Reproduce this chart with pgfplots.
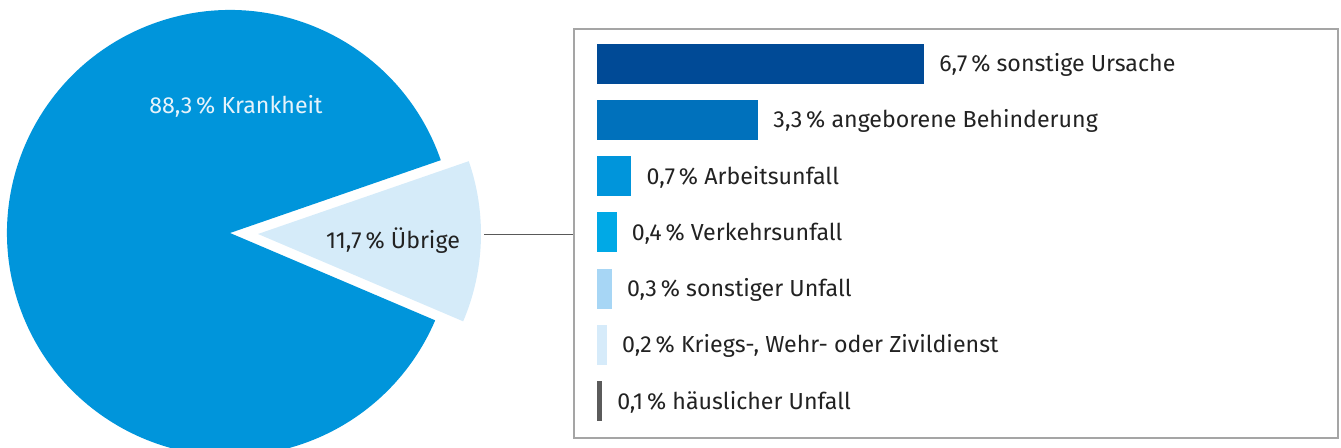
\documentclass[border=0pt]{standalone}
\usepackage{fontspec}
\setmainfont{Fira Sans}
\usepackage{pgfplots}
\pgfplotsset{compat=1.18}
\definecolor{pieblue}{HTML}{0095DB}
\definecolor{pielight}{HTML}{D5EBF9}
\definecolor{cA}{HTML}{004A96}
\definecolor{cB}{HTML}{0071BC}
\definecolor{cC}{HTML}{0095DB}
\definecolor{cD}{HTML}{00A9E6}
\definecolor{cE}{HTML}{A7D6F5}
\definecolor{cF}{HTML}{D6EBFA}
\definecolor{cG}{HTML}{5B5B5B}
\definecolor{txt}{HTML}{222222}
\definecolor{boxgray}{HTML}{A5A5A5}
\begin{document}
\begin{tikzpicture}[font=\fontsize{11.6}{14}\selectfont]
\useasboundingbox (0,0) rectangle (670.5pt,224pt);
% values of the pie
\def\krank{88.3}
\def\uebrig{11.7}
\pgfmathsetmacro\mid{-2}
\pgfmathsetmacro\aS{\mid+\uebrig*3.6/2}
\pgfmathsetmacro\aE{\mid-\uebrig*3.6/2+360}
\pgfmathsetmacro\aSs{\mid-\uebrig*3.6/2}
\begin{axis}[at={(0,0)}, anchor=south west, x=0.5pt, y=0.5pt,
  xmin=0, xmax=1341, ymin=0, ymax=448, scale only axis, hide axis, clip=true]
  \fill[pieblue] (axis cs:230,215) -- ++(\aS:111.5pt) arc[start angle=\aS, end angle=\aE, radius=111.5pt] -- cycle;
  \fill[pielight] (axis cs:258,214) -- ++(\aSs:111.5pt) arc[start angle=\aSs, end angle=\aS, radius=111.5pt] -- cycle;
  \draw[black!65, line width=0.5pt] (axis cs:484,213) -- (axis cs:574,213);
  \draw[boxgray, line width=1pt] (axis cs:574,9.5) rectangle (axis cs:1338,419);
  \node[text=pielight!60!white] at (axis cs:236,342) {88,3\,\% Krankheit};
  \node[text=txt] at (axis cs:393,207) {11,7\,\% Übrige};
\end{axis}
\begin{axis}[at={(298.5pt,9.45pt)}, anchor=south west, scale only axis,
  x=24.4pt, y=28.1pt, xmin=0, xmax=15, ymin=-0.5, ymax=6.5,
  hide axis, clip=false, xbar, bar width=20pt, bar shift=0pt,
  nodes near coords align=horizontal,
  every node near coord/.append style={anchor=west, inner sep=0pt, xshift=7.5pt, yshift=-0.5pt, text=txt, font=\fontsize{11.6}{14}\selectfont}]
  \addplot[fill=cA, draw=none, nodes near coords={6,7\,\% sonstige Ursache}] coordinates {(6.7,6)};
  \addplot[fill=cB, draw=none, nodes near coords={3,3\,\% angeborene Behinderung}] coordinates {(3.3,5)};
  \addplot[fill=cC, draw=none, nodes near coords={0,7\,\% Arbeitsunfall}] coordinates {(0.7,4)};
  \addplot[fill=cD, draw=none, nodes near coords={0,4\,\% Verkehrsunfall}] coordinates {(0.4,3)};
  \addplot[fill=cE, draw=none, nodes near coords={0,3\,\% sonstiger Unfall}] coordinates {(0.3,2)};
  \addplot[fill=cF, draw=none, nodes near coords={0,2\,\% Kriegs-, Wehr- oder Zivildienst}] coordinates {(0.2,1)};
  \addplot[fill=cG, draw=none, nodes near coords={0,1\,\% häuslicher Unfall}] coordinates {(0.1,0)};
\end{axis}
\end{tikzpicture}
\end{document}
